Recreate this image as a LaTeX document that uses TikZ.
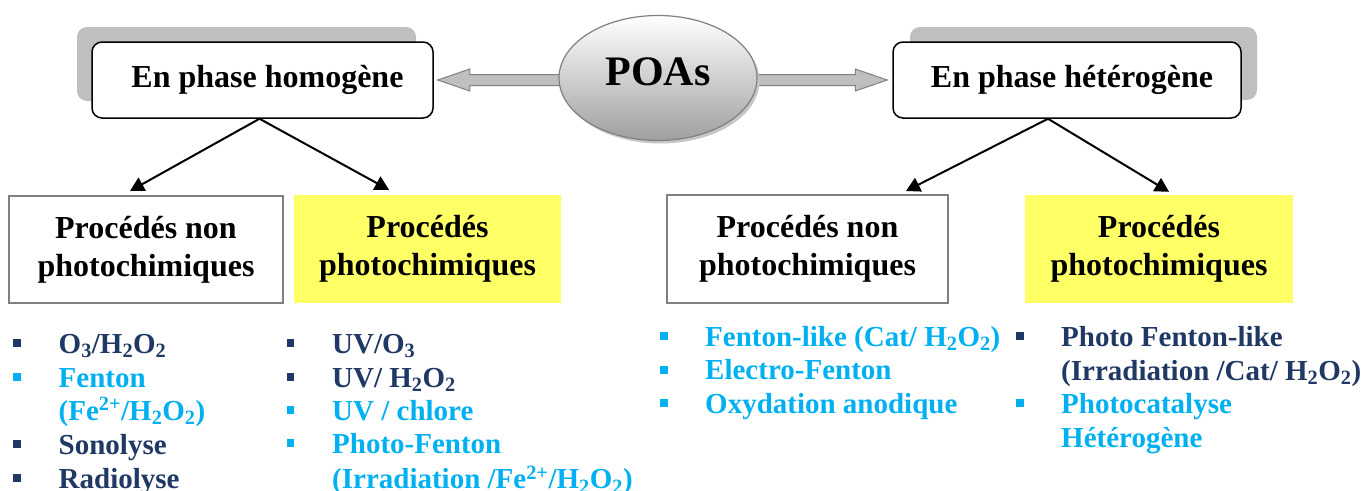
\documentclass[tikz,border=0pt]{standalone}
\usepackage{fontspec}
\setmainfont{Liberation Serif}
\usetikzlibrary{calc,arrows.meta,shapes.geometric}
\definecolor{navy}{HTML}{1F3864}
\definecolor{cyanb}{HTML}{00B0F0}
\definecolor{yell}{HTML}{FFFF66}
\definecolor{shad}{HTML}{BFBFBF}
\definecolor{boxgray}{HTML}{808080}
\begin{document}
\begin{tikzpicture}[x=1pt,y=-1pt,
  topbox/.style={draw=black, line width=1.5pt, fill=white, rounded corners=10pt,
     inner sep=0pt, font=\fontsize{32}{38}\selectfont\bfseries},
  lowbox/.style={inner sep=0pt, align=center, font=\fontsize{32}{38}\selectfont\bfseries},
  greybox/.style={lowbox, draw=boxgray, line width=2pt, fill=white},
  yellbox/.style={lowbox, fill=yell},
  bigarrow/.style={draw=boxgray, line width=1pt, fill=shad, line join=miter},
  conn/.style={line width=2pt, -{Triangle[length=14pt,width=15pt]}},
  itm/.style={anchor=base west, inner sep=0pt, font=\fontsize{29}{34}\selectfont\bfseries},
  bul/.style={rectangle, inner sep=0pt, minimum width=7.5pt, minimum height=8pt},
]
\useasboundingbox (0,0) rectangle (1365,490);

% top boxes with shadows
\fill[shad, rounded corners=10pt] (77,27) rectangle (416,101);
\node[topbox, minimum width=341pt, minimum height=76pt] (hom) at (262.5,80) {\hspace*{10pt}En phase homogène};
\fill[shad, rounded corners=10pt] (910,27) rectangle (1257,100);
\node[topbox, minimum width=348pt, minimum height=76pt] (het) at (1067,80) {\hspace*{10pt}En phase hétérogène};

% centre ellipse and the two broad arrows
\coordinate (pc) at (658,78);
\coordinate (la) at ($(hom.east)+(4,0)$);
\coordinate (lt) at (pc |- la);
\coordinate (ra) at ($(het.west)+(-5,0)$);
\coordinate (rt) at (pc |- ra);
\draw[bigarrow] ($(lt)+(0,-5.5)$) -- ($(la)+(32,-5.5)$) -- ($(la)+(32,-11)$) -- (la)
   -- ($(la)+(32,11)$) -- ($(la)+(32,5.5)$) -- ($(lt)+(0,5.5)$) -- cycle;
\draw[bigarrow] ($(rt)+(0,-5.5)$) -- ($(ra)+(-32,-5.5)$) -- ($(ra)+(-32,-11)$) -- (ra)
   -- ($(ra)+(-32,11)$) -- ($(ra)+(-32,5.5)$) -- ($(rt)+(0,5.5)$) -- cycle;

\fill[gray!45] ($(pc)+(2.5,3)$) ellipse (99 and 62.5);
\node[ellipse, draw=gray, line width=1.2pt, top color=white, bottom color=gray!75,
      minimum width=198pt, minimum height=125pt, inner sep=0pt] (poa) at (pc) {};
\node[inner sep=0pt, font=\fontsize{42}{48}\selectfont\bfseries, yshift=6pt] (poatxt) at (poa.center) {POAs};

% lower boxes
\node[greybox, minimum width=274pt, minimum height=107pt] (b1) at (146,249.5) {Procédés non\\photochimiques};
\node[yellbox, minimum width=267pt, minimum height=108pt] (b2) at (427.5,249) {Procédés\\photochimiques};
\node[greybox, minimum width=281pt, minimum height=108pt] (b3) at (807.5,249) {Procédés non\\photochimiques};
\node[yellbox, minimum width=268pt, minimum height=108pt] (b4) at (1159,249) {Procédés\\photochimiques};

% connectors
\draw[conn] ($(hom.south)+(-3,0)$) -- ($(b1.north)+(-16,-4)$);
\draw[conn] ($(hom.south)+(-3,0)$) -- ($(b2.north)+(-38.5,-5)$);
\draw[conn] ($(het.south)+(-19,0)$) -- ($(b3.north)+(98.5,-3)$);
\draw[conn] ($(het.south)+(-19,0)$) -- ($(b4.north)+(10,-3)$);

% column 1
\node[bul, fill=navy] (a1b) at (17,343) {};
\node[itm, text=navy] (a1) at (58.5,353) {O\textsubscript{3}/H\textsubscript{2}O\textsubscript{2}};
\node[bul, fill=cyanb] (a2b) at (17,377) {};
\node[itm, text=cyanb] (a2) at (58.5,387) {Fenton};
\node[itm, text=cyanb] (a3) at (58.5,420) {(Fe\textsuperscript{2+}/H\textsubscript{2}O\textsubscript{2})};
\node[bul, fill=navy] (a4b) at (17,444) {};
\node[itm, text=navy] (a4) at (58.5,454) {Sonolyse};
\node[bul, fill=navy] (a5b) at (17,478) {};
\node[itm, text=navy] (a5) at (58.5,488.5) {Radiolyse};

% column 2
\node[bul, fill=navy] (c1b) at (290.5,343) {};
\node[itm, text=navy] (c1) at (332,353) {UV/O\textsubscript{3}};
\node[bul, fill=navy] (c2b) at (290.5,377) {};
\node[itm, text=navy] (c2) at (332,387) {UV/ H\textsubscript{2}O\textsubscript{2}};
\node[bul, fill=cyanb] (c3b) at (290.5,410) {};
\node[itm, text=cyanb] (c3) at (332,420) {UV / chlore};
\node[bul, fill=cyanb] (c4b) at (290.5,443) {};
\node[itm, text=cyanb] (c4) at (332,453) {Photo-Fenton};
\node[itm, text=cyanb] (c5) at (332,488.5) {(Irradiation /Fe\textsuperscript{2+}/H\textsubscript{2}O\textsubscript{2})};

% column 3
\node[bul, fill=cyanb] (d1b) at (664,336) {};
\node[itm, text=cyanb] (d1) at (705,346) {Fenton-like (Cat/ H\textsubscript{2}O\textsubscript{2})};
\node[bul, fill=cyanb] (d2b) at (664,369.5) {};
\node[itm, text=cyanb] (d2) at (705,379.5) {Electro-Fenton};
\node[bul, fill=cyanb] (d3b) at (664,403) {};
\node[itm, text=cyanb] (d3) at (705,413) {Oxydation anodique};

% column 4
\node[bul, fill=navy] (e1b) at (1020,336) {};
\node[itm, text=navy] (e1) at (1061,346) {Photo Fenton-like};
\node[itm, text=navy] (e2) at (1061,380) {(Irradiation /Cat/ H\textsubscript{2}O\textsubscript{2})};
\node[bul, fill=cyanb] (e3b) at (1020,403) {};
\node[itm, text=cyanb] (e3) at (1061,413) {Photocatalyse};
\node[itm, text=cyanb] (e4) at (1061,447) {Hétérogène};
\end{tikzpicture}
\end{document}
